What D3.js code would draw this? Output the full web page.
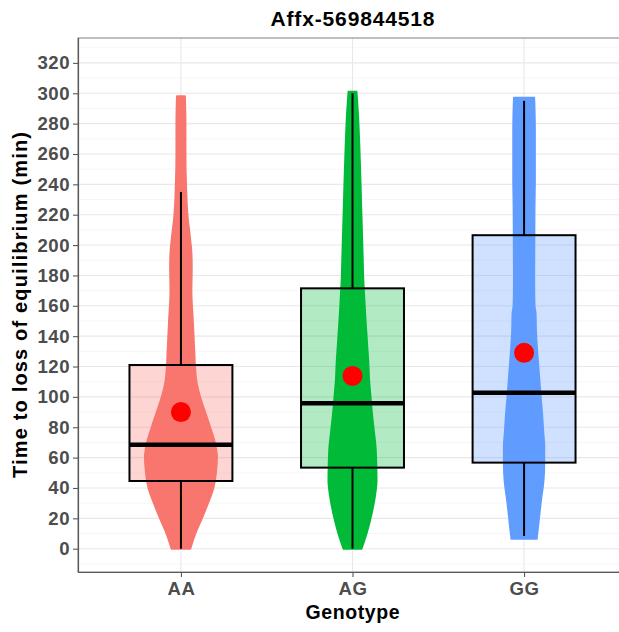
<!DOCTYPE html>
<html>
<head>
<meta charset="utf-8">
<script src="https://cdn.jsdelivr.net/npm/d3@7"></script>
<style>
  body { margin: 0; background: #fff; }
  svg { font-family: "Liberation Sans", Arial, sans-serif; }
</style>
</head>
<body>
<svg id="chart"></svg>
<script>
// the genotype groups and their colours
var genotypes = ["AA", "AG", "GG"];
var colors = ["#F8766D", "#00BA38", "#619CFF"];

// box plot stats
var lowWhisker = [0, 0, 8.4];
var q1 = [44.6, 53.4, 56.7];
var medians = [68.5, 95.8, 102.8];
var q3 = [121, 171.5, 206.5];
var highWhisker = [235, 300, 295];
var means = [90, 113.8, 129];

// violin outline: value and relative density
var densAA = [[0,0.26],[10,0.40],[20,0.58],[30,0.75],[40,0.90],[50,0.97],[60,1.00],[70,0.94],[80,0.81],[90,0.67],[100,0.53],[110,0.43],[120,0.39],[130,0.37],[150,0.33],[170,0.29],[185,0.30],[195,0.29],[205,0.25],[220,0.18],[240,0.14],[260,0.125],[280,0.125],[298,0.11]];
var densAG = [[0,0.25],[10,0.39],[23,0.53],[35,0.625],[45,0.667],[55,0.66],[67,0.64],[78,0.59],[89,0.54],[100,0.50],[111,0.46],[122,0.44],[133,0.41],[144,0.38],[155,0.35],[166,0.325],[177,0.30],[194,0.28],[210,0.26],[226,0.24],[243,0.22],[265,0.19],[287,0.15],[301,0.11]];
var densGG = [[6.5,0.35],[19,0.41],[30,0.46],[45,0.54],[56,0.56],[67,0.56],[78,0.53],[89,0.50],[100,0.46],[111,0.425],[122,0.39],[133,0.355],[144,0.33],[155,0.32],[160,0.29],[177,0.28],[194,0.283],[210,0.286],[226,0.29],[243,0.30],[260,0.30],[276,0.30],[290,0.29],[297,0.28]];
var densities = [densAA, densAG, densGG];

var yTicks = d3.range(0, 321, 20);
var yMinor = d3.range(-10, 331, 20);

var screen = {width: 619, height: 632};
var margins = {top: 38, bottom: 60, left: 78, right: -8};
var graph = {
    width: screen.width - margins.left - margins.right,
    height: screen.height - margins.top - margins.bottom
};

var svg = d3.select("#chart")
    .attr("width", screen.width)
    .attr("height", screen.height);

var xScale = d3.scalePoint()
    .domain(genotypes)
    .range([0, graph.width])
    .padding(0.6);
var step = xScale.step();

var yScale = d3.scaleLinear()
    .domain([-15.35, 336.4])
    .range([graph.height, 0]);

// half width of a violin for a density
var widthScale = d3.scaleLinear()
    .domain([0, 1])
    .range([0, 36]);

var g = svg.append("g")
    .attr("transform", "translate(" + margins.left + "," + margins.top + ")");

// grid
g.selectAll(".minor")
    .data(yMinor)
    .enter()
    .append("line")
    .attr("x1", 0).attr("x2", graph.width)
    .attr("y1", function(d){ return yScale(d); })
    .attr("y2", function(d){ return yScale(d); })
    .attr("stroke", "#f2f2f2")
    .attr("stroke-width", 0.7);

g.selectAll(".major")
    .data(yTicks)
    .enter()
    .append("line")
    .attr("x1", 0).attr("x2", graph.width)
    .attr("y1", function(d){ return yScale(d); })
    .attr("y2", function(d){ return yScale(d); })
    .attr("stroke", "#e8e8e8")
    .attr("stroke-width", 1.1);

g.selectAll(".vgrid")
    .data(genotypes)
    .enter()
    .append("line")
    .attr("x1", function(d){ return xScale(d); })
    .attr("x2", function(d){ return xScale(d); })
    .attr("y1", 0).attr("y2", graph.height)
    .attr("stroke", "#e8e8e8")
    .attr("stroke-width", 1.1);

// violins
genotypes.forEach(function(geno, i) {
    var cx = xScale(geno);
    var area = d3.area()
        .curve(d3.curveMonotoneY)
        .y(function(d){ return yScale(d[0]); })
        .x0(function(d){ return cx - widthScale(d[1]); })
        .x1(function(d){ return cx + widthScale(d[1]); });
    g.append("path")
        .datum(densities[i])
        .attr("d", area)
        .attr("fill", colors[i])
        .attr("stroke", colors[i])
        .attr("stroke-width", 2)
        .attr("stroke-linejoin", "round");
});

// whiskers
genotypes.forEach(function(geno, i) {
    var cx = xScale(geno);
    g.append("line")
        .attr("x1", cx).attr("x2", cx)
        .attr("y1", yScale(q3[i])).attr("y2", yScale(highWhisker[i]))
        .attr("stroke", "black").attr("stroke-width", 2);
    g.append("line")
        .attr("x1", cx).attr("x2", cx)
        .attr("y1", yScale(q1[i])).attr("y2", yScale(lowWhisker[i]))
        .attr("stroke", "black").attr("stroke-width", 2);
});

// boxes
var boxW = step * 0.6;
g.selectAll(".box")
    .data(genotypes)
    .enter()
    .append("rect")
    .attr("x", function(d){ return xScale(d) - boxW / 2; })
    .attr("width", boxW)
    .attr("y", function(d, i){ return yScale(q3[i]); })
    .attr("height", function(d, i){ return yScale(q1[i]) - yScale(q3[i]); })
    .attr("fill", function(d, i){ return colors[i]; })
    .attr("fill-opacity", 0.3)
    .attr("stroke", "black")
    .attr("stroke-width", 2);

g.selectAll(".median")
    .data(genotypes)
    .enter()
    .append("line")
    .attr("x1", function(d){ return xScale(d) - boxW / 2; })
    .attr("x2", function(d){ return xScale(d) + boxW / 2; })
    .attr("y1", function(d, i){ return yScale(medians[i]); })
    .attr("y2", function(d, i){ return yScale(medians[i]); })
    .attr("stroke", "black")
    .attr("stroke-width", 4.5);

// means
g.selectAll(".mean")
    .data(genotypes)
    .enter()
    .append("circle")
    .attr("cx", function(d){ return xScale(d); })
    .attr("cy", function(d, i){ return yScale(means[i]); })
    .attr("r", 10)
    .attr("fill", "#FF0000");

// panel border
g.append("rect")
    .attr("x", 0).attr("y", 0)
    .attr("width", graph.width).attr("height", graph.height)
    .attr("fill", "none")
    .attr("stroke", "#808080")
    .attr("stroke-width", 1);

// axes
var yAxis = d3.axisLeft(yScale).tickValues(yTicks).tickSize(5).tickPadding(3);
var xAxis = d3.axisBottom(xScale).tickSize(5).tickPadding(5);

var ya = g.append("g").call(yAxis);
var xa = g.append("g")
    .attr("transform", "translate(0," + graph.height + ")")
    .call(xAxis);

[ya, xa].forEach(function(a) {
    a.select(".domain").attr("stroke", "#595959").attr("stroke-width", 1.2);
    a.selectAll(".tick line").attr("stroke", "#595959").attr("stroke-width", 1.1);
    a.selectAll(".tick text")
        .attr("fill", "#4d4d4d")
        .style("font-size", "18.6px")
        .style("font-weight", "bold")
        .style("letter-spacing", "0.5px")
        .style("font-family", "'Liberation Sans', Arial, sans-serif");
});
xa.select(".domain").attr("d", "M0,0.5H" + graph.width);
ya.select(".domain").attr("d", "M0.5,0V" + graph.height);

// titles
svg.append("text")
    .attr("x", margins.left + graph.width / 2)
    .attr("y", 26)
    .attr("text-anchor", "middle")
    .attr("textLength", 164)
    .attr("lengthAdjust", "spacing")
    .style("font-size", "21px")
    .style("font-weight", "bold")
    .text("Affx-569844518");

svg.append("text")
    .attr("x", margins.left + graph.width / 2)
    .attr("y", 619)
    .attr("text-anchor", "middle")
    .attr("textLength", 94)
    .attr("lengthAdjust", "spacing")
    .style("font-size", "19.5px")
    .style("font-weight", "bold")
    .text("Genotype");

svg.append("text")
    .attr("transform", "translate(27," + (margins.top + graph.height / 2) + ") rotate(-90)")
    .attr("text-anchor", "middle")
    .attr("textLength", 346)
    .attr("lengthAdjust", "spacing")
    .style("font-size", "20px")
    .style("font-weight", "bold")
    .text("Time to loss of equilibrium (min)");
</script>
</body>
</html>
